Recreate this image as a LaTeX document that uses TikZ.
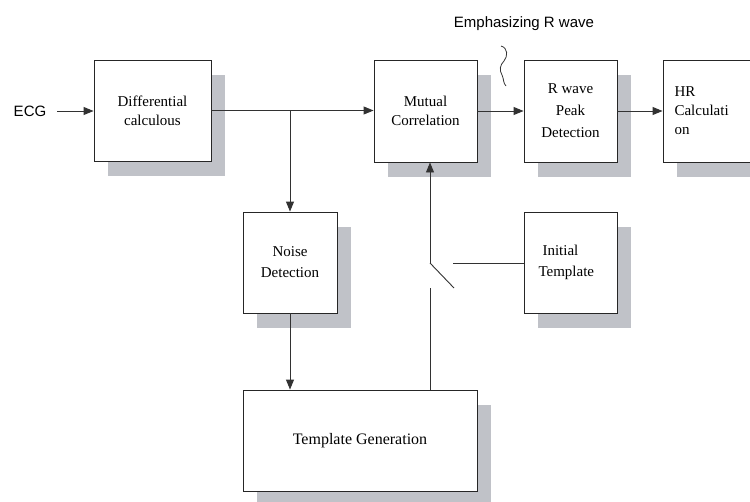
\documentclass[tikz,border=0pt]{standalone}
\usepackage{fontspec}
\setmainfont{Liberation Serif}
\newfontfamily\arialfont{Liberation Sans}
\usetikzlibrary{arrows.meta,backgrounds,calc}
\definecolor{shadowgray}{RGB}{192,194,200}
\definecolor{linegray}{RGB}{50,50,50}
\tikzset{
  box/.style={draw=black!85, line width=0.9pt, fill=white, inner sep=2pt,
    font=\fontsize{15}{19}\selectfont, align=center},
  conn/.style={draw=linegray, line width=0.9pt},
  arr/.style={conn, -{Triangle[length=10pt,width=8pt]}},
  shade/.style={fill=shadowgray, draw=none},
  lbl/.style={font=\arialfont\fontsize{15}{18}\selectfont, inner sep=0pt}
}
\newcommand{\boxshadow}[1]{%
  \begin{scope}[on background layer]
    \fill[shade] ([shift={(14,15)}]#1.north west) rectangle ([shift={(14,15)}]#1.south east);
  \end{scope}}
\begin{document}
\begin{tikzpicture}[x=1pt,y=-1pt]
\useasboundingbox (0,0) rectangle (750,501);

% boxes
\node[box, minimum width=117pt, minimum height=101pt] (diff) at (152.5,110.5) {Differential\\calculous};
\node[box, minimum width=103pt, minimum height=102pt] (mutual) at (425.5,111) {Mutual\\Correlation};
\node[box, minimum width=93pt, minimum height=102pt, font=\fontsize{15}{22}\selectfont] (rwave) at (570.5,111) {R wave\\Peak\\Detection};
\node[box, minimum width=93pt, minimum height=102pt, align=left, text width=70pt] (hr) at (709.5,111) {HR\\Calculati\\on};
\node[box, minimum width=94pt, minimum height=101pt, font=\fontsize{15}{21}\selectfont] (noise) at (290,262.5) {Noise\\Detection};
\node[box, minimum width=93pt, minimum height=101pt, align=left, text width=64pt, font=\fontsize{15}{21}\selectfont] (init) at (570.5,262.5) {\hspace*{4pt}Initial\\Template};
\node[box, minimum width=234pt, minimum height=101pt, font=\fontsize{16}{19}\selectfont] (tgen) at (360,440.5) {Template Generation};

\boxshadow{diff}
\boxshadow{mutual}
\boxshadow{rwave}
\boxshadow{hr}
\boxshadow{noise}
\boxshadow{init}
\boxshadow{tgen}

% labels
\node[lbl] (ecg) at (30,111) {ECG};
\node[lbl] (emph) at (524,24) {Emphasizing R wave};
\draw[line width=0.8pt, black!80] (501,46) .. controls (508,48) and (508,56) .. (504,61)
  .. controls (500,65) and (499,70) .. (502,75) .. controls (504,79) and (503,83) .. (506,86);

% coordinates
\coordinate (ecgend) at (57,111);
\coordinate (br) at (diff.east -| noise.north);
\coordinate (swtop) at (430,263);
\coordinate (swtip) at (454,288);
\coordinate (swbot) at (430,288);
\coordinate (swin) at (453,263);

% connectors
\draw[arr] (ecgend) -- (ecgend -| diff.west);
\draw[arr] (diff.east) -- (diff.east -| mutual.west);
\draw[arr] (br) -- (noise.north);
\draw[arr] (mutual.east) -- (rwave.west);
\draw[arr] (rwave.east) -- (hr.west);
\draw[arr] (noise.south) -- (noise.south |- tgen.north);
\draw[conn] (swbot |- tgen.north) -- (swbot);
\draw[conn] (swtop) -- (swtip);
\draw[arr] (swtop) -- (swtop |- mutual.south);
\draw[conn] (swin) -- (swin -| init.west);
\end{tikzpicture}
\end{document}
